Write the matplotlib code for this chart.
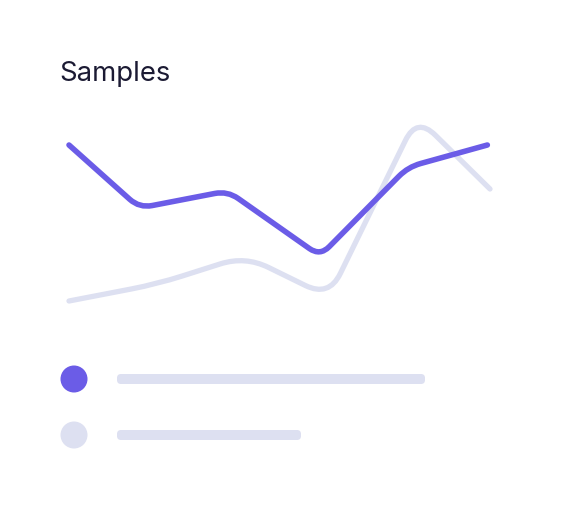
import matplotlib
matplotlib.use("Agg")
import matplotlib.pyplot as plt
import numpy as np
from matplotlib.path import Path
from matplotlib.patches import PathPatch, Circle, FancyBboxPatch

# chart data (values on a 0-100 scale)
purple_x = [0.0, 0.8, 1.8, 2.85, 3.85, 4.75]
purple_vals = [82, 50.5, 59, 26.5, 71, 82]
grey_x = [0.0, 1.0, 2.0, 2.95, 3.95, 4.78]
grey_vals = [4, 12.5, 26.5, 6, 96, 60]
legend_colors = ["#6b5ce7", "#dde0f1"]
legend_bar_len = [308, 184]  # placeholder label lengths in px

PURPLE = "#6b5ce7"
GREY = "#dde0f1"

fig = plt.figure(figsize=(5.62, 5.10), dpi=100)
fig.patch.set_facecolor("white")
W, H = 562, 510

# plot area: x 69..490 px, y 110..310 px
ax = fig.add_axes([69 / W, 1 - 310 / H, (490 - 69) / W, 200 / H])
ax.set_xlim(0, 4.78)
ax.set_ylim(0, 100)
ax.axis("off")


def rounded_path(xs, ys, radius):
    """polyline with rounded corners (radius in pixels)"""
    pts = ax.transData.transform(np.column_stack([xs, ys]))
    verts = [pts[0]]
    codes = [Path.MOVETO]
    for i in range(1, len(pts) - 1):
        p, a, b = pts[i], pts[i - 1], pts[i + 1]
        da = np.linalg.norm(a - p)
        db = np.linalg.norm(b - p)
        ra = min(radius, da / 2)
        rb = min(radius, db / 2)
        start = p + (a - p) / da * ra
        end = p + (b - p) / db * rb
        verts += [start, p, end]
        codes += [Path.LINETO, Path.CURVE3, Path.CURVE3]
    verts.append(pts[-1])
    codes.append(Path.LINETO)
    return Path(verts, codes)


grey_path = rounded_path(grey_x, grey_vals, 26)
ax.add_patch(PathPatch(grey_path, transform=None, fill=False, edgecolor=GREY,
                       lw=3.8, capstyle="round", joinstyle="round", zorder=2,
                       clip_on=False))
purple_path = rounded_path(purple_x, purple_vals, 13)
ax.add_patch(PathPatch(purple_path, transform=None, fill=False, edgecolor=PURPLE,
                       lw=4.0, capstyle="round", joinstyle="round", zorder=3,
                       clip_on=False))

# title
fig.text(59 / W, 1 - 81 / H, "Samples", fontsize=19.8, color="#1b1a33",
         family=["Inter", "DejaVu Sans"], ha="left", va="baseline")

# legend skeleton
lax = fig.add_axes([0, 0, 1, 1])
lax.set_xlim(0, W)
lax.set_ylim(H, 0)
lax.axis("off")
for i, (c, blen) in enumerate(zip(legend_colors, legend_bar_len)):
    cy = 380 + i * 56
    lax.add_patch(Circle((74, cy), 13.5, facecolor=c, edgecolor="none"))
    lax.add_patch(FancyBboxPatch((121, cy - 1), blen - 8, 2,
                                 boxstyle="round,pad=4", facecolor=GREY,
                                 edgecolor="none"))

fig.savefig("out.png", dpi=100, facecolor="white")
